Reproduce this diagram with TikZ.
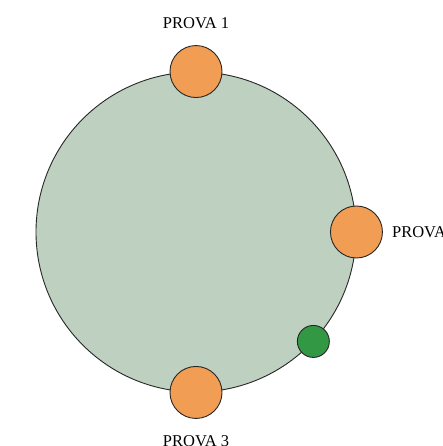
\documentclass[tikz,border=0pt]{standalone}
\usepackage{fontspec}
\setmainfont{Liberation Serif}
\usetikzlibrary{positioning}
\definecolor{discfill}{RGB}{190,208,192}
\definecolor{provaorange}{RGB}{241,157,84}
\definecolor{markgreen}{RGB}{50,152,68}
\tikzset{
x=1pt, y=1pt, % work in points, like the pixels of the figure
disc/.style={circle, draw=black!85, line width=0.9pt, fill=discfill, minimum size=320pt, inner sep=0pt}, % the big round area
prova/.style={circle, draw=black!85, line width=0.9pt, fill=provaorange, minimum size=52pt, inner sep=0pt}, % orange probes
marker/.style={circle, draw=black!85, line width=0.9pt, fill=markgreen, minimum size=32pt, inner sep=0pt}, % small green dot
tag/.style={inner sep=0pt, font=\fontsize{16.5}{19}\selectfont}, % probe names
}

\begin{document}
\begin{tikzpicture}
      \useasboundingbox (0,0) rectangle (442,446);

      \node[disc] (base) at (196,214) {};

      \node[prova] (p1) at (base.north) {};
      \node[prova] (p2) at (base.east) {};
      \node[prova] (p3) at (base.south) {};
      \node[marker] (g) at (base.-43) {};

      \node[tag, above=16pt of p1] (t1) {PROVA 1};
      \node[tag, right=9pt of p2] (t2) {PROVA};
      \node[tag, below=16pt of p3] (t3) {PROVA 3};
    \end{tikzpicture}
\end{document}
